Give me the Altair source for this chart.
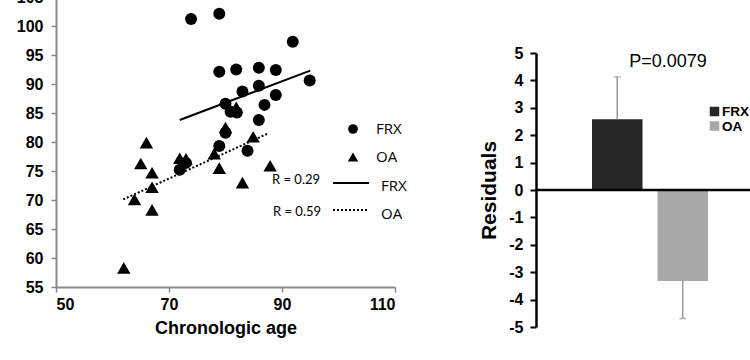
import altair as alt
import pandas as pd

# ---- left panel: scatter ----
frx_age = [73.9, 78.9, 91.9, 94.9, 78.9, 81.9, 85.9, 88.9, 83.0, 85.9, 88.9,
           80.0, 86.9, 80.9, 82.0, 85.9, 80.0, 78.9, 83.9, 71.9, 73.0]
frx_val = [101.2, 102.1, 97.3, 90.6, 92.1, 92.5, 92.8, 92.4, 88.7, 89.7, 88.1,
           86.6, 86.4, 85.2, 85.1, 83.8, 81.6, 79.3, 78.5, 75.2, 76.4]
oa_age = [66.0, 65.0, 67.0, 71.9, 73.0, 78.0, 78.9, 80.0, 84.9, 87.9, 83.0,
          67.0, 63.9, 67.0, 62.0, 81.9]
oa_val = [79.9, 76.3, 74.7, 77.2, 77.1, 78.0, 75.5, 82.5, 80.9, 75.9, 73.0,
          72.2, 70.1, 68.3, 58.3, 86.0]
fit_group = ["FRX", "FRX", "OA", "OA"]
fit_age = [71.9, 95.0, 61.9, 87.6]
fit_val = [83.8, 92.3, 70.1, 81.5]
x_ticks = [50, 70, 90, 110]
y_ticks = [55, 60, 65, 70, 75, 80, 85, 90, 95, 100, 105]
r_labels = ["R = 0.29", "R = 0.59"]

# ---- right panel: residual bars ----
groups = ["FRX", "OA"]
residuals = [2.58, -3.32]
err_end = [4.13, -4.69]
res_ticks = [-5, -4, -3, -2, -1, 0, 1, 2, 3, 4, 5]
p_label = "P=0.0079"

AX_FONT = "Liberation Sans"
GRAY_AX = "#8a8a8a"

frx_df = pd.DataFrame({"age": frx_age, "val": frx_val})
oa_df = pd.DataFrame({"age": oa_age, "val": oa_val})
fit_df = pd.DataFrame({"group": fit_group, "age": fit_age, "val": fit_val})
bar_df = pd.DataFrame({"group": groups, "res": residuals, "err": err_end})

xs = alt.Scale(domain=[50, 110], range=[56, 395], nice=False, zero=False)
ys = alt.Scale(domain=[55, 105], range=[287, -3], nice=False, zero=False)

x_axis = alt.Axis(values=x_ticks, orient="bottom", offset=-73, title="Chronologic age",
                  labelFont=AX_FONT, labelFontSize=16, labelFontWeight="bold", labelColor="black",
                  titleFont=AX_FONT, titleFontSize=18, titleFontWeight="bold", titleColor="black",
                  domainColor=GRAY_AX, domainWidth=2, tickColor=GRAY_AX, tickSize=5, tickWidth=1.5,
                  labelPadding=4, titlePadding=7, grid=False, labelExpr="'' + datum.value")
y_axis = alt.Axis(values=y_ticks, orient="left", offset=-56, title=None,
                  labelFont=AX_FONT, labelFontSize=16, labelFontWeight="bold", labelColor="black",
                  domainColor=GRAY_AX, domainWidth=2, tickColor=GRAY_AX, tickSize=5, tickWidth=1.5,
                  labelPadding=8, grid=False, labelExpr="'' + datum.value")

X = alt.X("age:Q", scale=xs, axis=x_axis)
Y = alt.Y("val:Q", scale=ys, axis=y_axis)

circles = alt.Chart(frx_df).mark_point(shape="circle", filled=True, color="black",
                                        opacity=1, size=144).encode(x=X, y=Y)
triangles = alt.Chart(oa_df).mark_point(shape="triangle-up", filled=True, color="black",
                                         opacity=1, size=180).encode(x=X, y=Y)
fit_frx = alt.Chart(fit_df).transform_filter(alt.datum.group == "FRX").mark_line(
    color="black", strokeWidth=2).encode(x=X, y=Y)
fit_oa = alt.Chart(fit_df).transform_filter(alt.datum.group == "OA").mark_line(
    color="black", strokeWidth=2, strokeDash=[2, 2]).encode(x=X, y=Y)

one = pd.DataFrame({"k": [0]})


def txt(s, x, y, size, font, weight="normal", align="left"):
    return alt.Chart(one).mark_text(text=s, font=font, fontSize=size, fontWeight=weight,
                                    align=align, baseline="middle", color="black").encode(
        x=alt.value(x), y=alt.value(y))


leg_circle = alt.Chart(one).mark_point(shape="circle", filled=True, color="black", opacity=1,
                                       size=95).encode(x=alt.value(353), y=alt.value(129))
leg_tri = alt.Chart(one).mark_point(shape="triangle-up", filled=True, color="black", opacity=1,
                                    size=110).encode(x=alt.value(353), y=alt.value(157))
leg_solid = alt.Chart(one).mark_rule(color="black", strokeWidth=2).encode(
    x=alt.value(333), x2=alt.value(369), y=alt.value(183))
leg_dot = alt.Chart(one).mark_rule(color="black", strokeWidth=2, strokeDash=[2, 2]).encode(
    x=alt.value(333), x2=alt.value(369), y=alt.value(210))

left = alt.layer(
    fit_frx, fit_oa, circles, triangles,
    leg_circle, leg_tri, leg_solid, leg_dot,
    txt("FRX", 376, 129, 15, "Open Sans"),
    txt("OA", 376, 157, 15, "Open Sans"),
    txt(r_labels[0], 272, 180, 13, "Lato"),
    txt(r_labels[1], 273, 212, 13, "Lato"),
    txt("FRX", 381, 186, 15, "Open Sans"),
    txt("OA", 381, 214, 15, "Open Sans"),
)

# ---- right panel ----
bx = alt.Scale(domain=groups, range=[592, 708], paddingInner=0.229, paddingOuter=0)
by = alt.Scale(domain=[-5, 5], range=[327, 53], nice=False, zero=False)
r_axis = alt.Axis(values=res_ticks, orient="left", offset=-536, title="Residuals",
                  labelFont=AX_FONT, labelFontSize=16, labelFontWeight="bold", labelColor="black",
                  titleFont=AX_FONT, titleFontSize=21, titleFontWeight="bold", titleColor="black",
                  domainColor="black", domainWidth=2.5, tickColor="black", tickSize=6, tickWidth=2,
                  labelPadding=7, titlePadding=9, grid=False, labelExpr="'' + datum.value")
BX = alt.X("group:N", scale=bx, axis=None)

bars = alt.Chart(bar_df).mark_bar().encode(
    x=BX,
    y=alt.Y("res:Q", scale=by, axis=r_axis),
    y2=alt.datum(0),
    color=alt.Color("group:N", scale=alt.Scale(domain=groups, range=["#262626", "#aaa7a7"]),
                    legend=None),
)
errs = alt.Chart(bar_df).mark_rule(color="#999999", strokeWidth=1.5).encode(
    x=BX, y=alt.Y("res:Q", scale=by, axis=r_axis), y2="err:Q")
caps = alt.Chart(bar_df).mark_tick(color="#999999", thickness=1.5, size=7, orient="horizontal").encode(
    x=BX, y=alt.Y("err:Q", scale=by, axis=r_axis))
zero_line = alt.Chart(one).mark_rule(color="black", strokeWidth=2.5).encode(
    x=alt.value(536), x2=alt.value(750), y=alt.value(190))

sq_frx = alt.Chart(one).mark_square(color="#262626", size=90, opacity=1).encode(
    x=alt.value(714.5), y=alt.value(111.5))
sq_oa = alt.Chart(one).mark_square(color="#aaa7a7", size=90, opacity=1).encode(
    x=alt.value(714.5), y=alt.value(126))

right = alt.layer(
    bars, errs, caps, zero_line, sq_frx, sq_oa,
    txt(p_label, 668, 62, 18, AX_FONT, align="center"),
    txt("FRX", 722, 111.5, 13.5, AX_FONT, weight="bold"),
    txt("OA", 722, 126.5, 13.5, AX_FONT, weight="bold"),
)

chart = alt.layer(left, right).resolve_scale(
    x="independent", y="independent", color="independent"
).resolve_axis(x="independent", y="independent").properties(
    width=750, height=360, autosize=alt.AutoSizeParams(type="none"), padding=0
).configure_view(stroke=None)

chart.save("out.html", embed_options={"renderer": "svg", "actions": False})
